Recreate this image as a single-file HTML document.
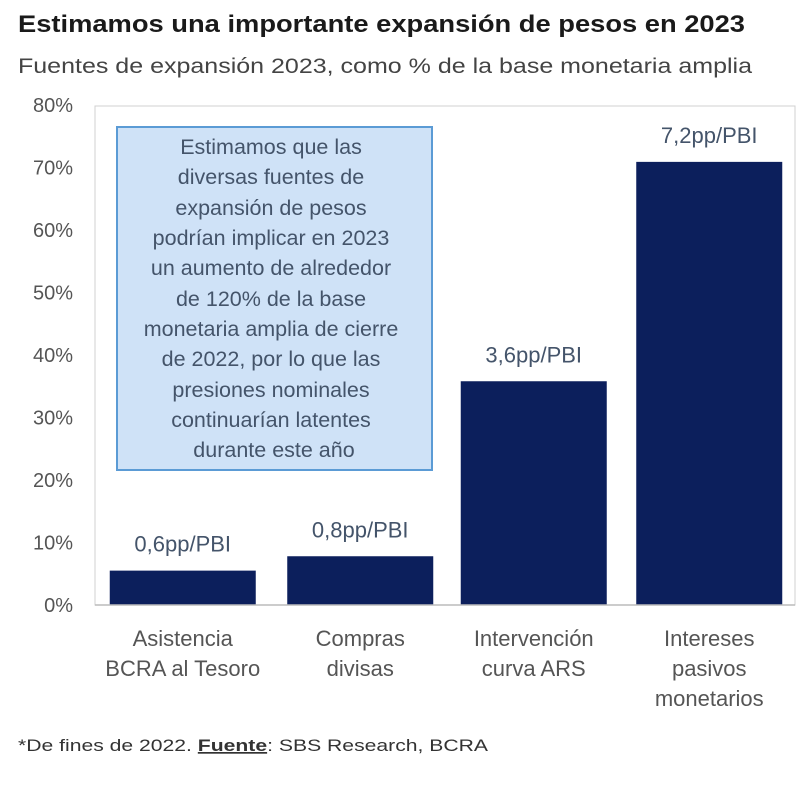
<!DOCTYPE html>
<html><head><meta charset="utf-8"><style>
body{margin:0;background:#fff;width:800px;height:784px;overflow:hidden;font-family:"Liberation Sans",sans-serif}
svg text{font-family:"Liberation Sans",sans-serif}
</style></head><body>
<svg id="c" width="800" height="784">
<text x="18" y="32" font-size="24" font-weight="bold" fill="#1a1a1a" textLength="727" lengthAdjust="spacingAndGlyphs">Estimamos una importante expansión de pesos en 2023</text>
<text x="18" y="73" font-size="21" fill="#444" textLength="734" lengthAdjust="spacingAndGlyphs">Fuentes de expansión 2023, como % de la base monetaria amplia</text>
<rect x="95" y="106" width="700" height="499" fill="none" stroke="#d0d0d0" stroke-width="1"/>
<g id="yt"></g><g id="bars"></g>
<line x1="95" y1="605" x2="795" y2="605" stroke="#bbb" stroke-width="1.5"/>
<rect x="117" y="127" width="315" height="343" fill="#cfe2f7" stroke="#5b9bd5" stroke-width="2"/>
<text font-size="21.5" fill="#44546a" text-anchor="middle">
<tspan x="274" y="154">Estimamos que las</tspan>
<tspan x="274" y="184">diversas fuentes de</tspan>
<tspan x="274" y="215">expansión de pesos</tspan>
<tspan x="274" y="245">podrían implicar en 2023</tspan>
<tspan x="274" y="275">un aumento de alrededor</tspan>
<tspan x="274" y="306">de 120% de la base</tspan>
<tspan x="274" y="336">monetaria amplia de cierre</tspan>
<tspan x="274" y="366">de 2022, por lo que las</tspan>
<tspan x="274" y="397">presiones nominales</tspan>
<tspan x="274" y="427">continuarían latentes</tspan>
<tspan x="274" y="457">durante este año</tspan>
</text>
<text x="18" y="751" font-size="17" fill="#333" textLength="470" lengthAdjust="spacingAndGlyphs">*De fines de 2022. <tspan font-weight="bold" text-decoration="underline">Fuente</tspan>: SBS Research, BCRA</text>
</svg>
<script>
const categories=[["Asistencia","BCRA al Tesoro"],["Compras","divisas"],["Intervención","curva ARS"],["Intereses","pasivos","monetarios"]];
const values=[5.5,7.8,35.8,70.9];
const labels=["0,6pp/PBI","0,8pp/PBI","3,6pp/PBI","7,2pp/PBI"];
const ticks=[0,10,20,30,40,50,60,70,80];
const NS="http://www.w3.org/2000/svg";
const y0=605,pxPer=62.5/10,left=95,band=175.5;
const y=v=>y0-v*pxPer;
const xc=i=>left+band*i+band/2+(i===1?2:0);
function mk(t,a,p,txt){const e=document.createElementNS(NS,t);for(const k in a)e.setAttribute(k,a[k]);if(txt!==undefined)e.textContent=txt;p.appendChild(e);return e;}
const yt=document.getElementById('yt'),bars=document.getElementById('bars');
ticks.forEach(t=>{const e=mk('text',{x:73,y:y(t)+7,'font-size':20,fill:'#555','text-anchor':'end'},yt,t+'%');

});
values.forEach((v,i)=>{const w=146,cx=xc(i);
const r=mk('rect',{x:cx-w/2,y:y(v),width:w,height:y0-y(v),fill:'#0c1f5c'},bars);


const l=mk('text',{x:cx,y:y(v)-19,'font-size':22,fill:'#44546a','text-anchor':'middle'},bars,labels[i]);


categories[i].forEach((s,j)=>{const c=mk('text',{x:cx,y:646+j*30,'font-size':22,fill:'#555','text-anchor':'middle'},bars,s);

});
});
</script>
</body></html>
